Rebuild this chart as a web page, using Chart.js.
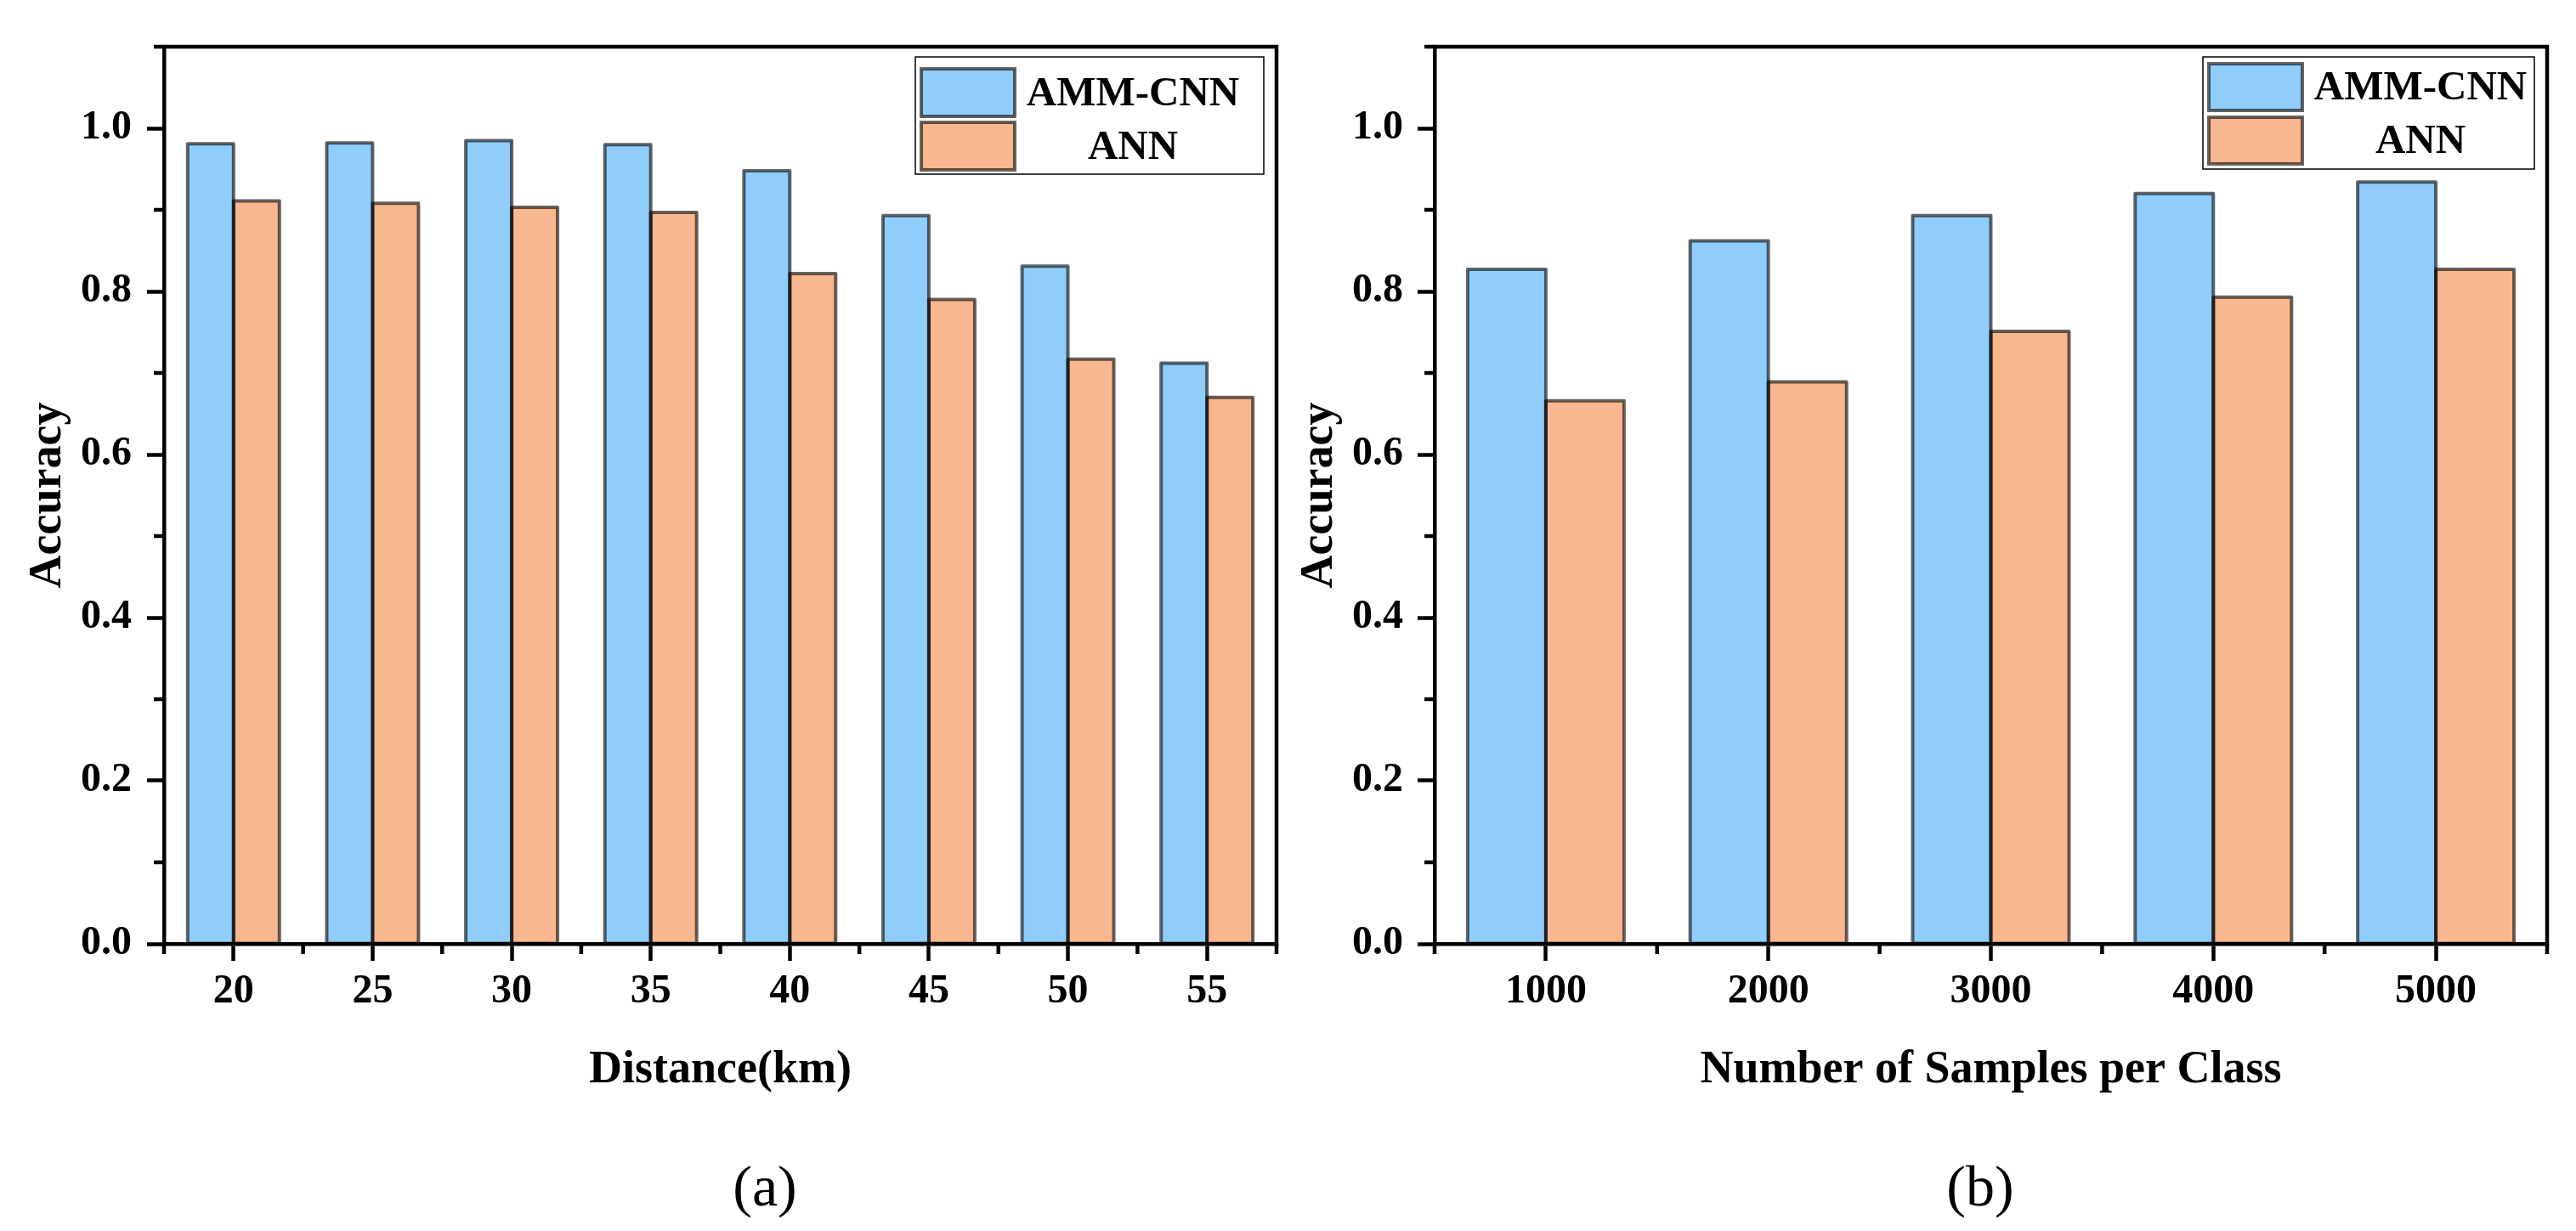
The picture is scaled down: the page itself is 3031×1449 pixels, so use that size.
<!DOCTYPE html>
<html>
<head>
<meta charset="utf-8">
<script src="https://cdn.jsdelivr.net/npm/chart.js@4.4.1/dist/chart.umd.min.js"></script>
<style>
html, body { margin: 0; padding: 0; background: #fff; }
#page { position: relative; width: 3031px; height: 1449px; overflow: hidden; background: #fff; }
.panel { position: absolute; top: 0; }
.caption { position: absolute; width: 200px; text-align: center; font-family: "Liberation Serif", "Times New Roman", serif; font-size: 68px; line-height: 80px; color: #000; }
</style>
</head>
<body>
<div id="page">
    <canvas id="chartA" class="panel" width="1516" height="1340" style="left:0px"></canvas>
    <canvas id="chartB" class="panel" width="1515" height="1340" style="left:1516px"></canvas>
    <div class="caption" style="left:800px; top:1356px">(a)</div>
    <div class="caption" style="left:2230px; top:1356px">(b)</div>
</div>
<script>
// panel (a): accuracy vs distance
var distanceLabels = ['20', '25', '30', '35', '40', '45', '50', '55'];
var distanceAmmCnn = [0.981, 0.982, 0.985, 0.980, 0.948, 0.893, 0.831, 0.712];
var distanceAnn = [0.911, 0.908, 0.903, 0.897, 0.822, 0.790, 0.717, 0.670];

// panel (b): accuracy vs samples per class
var sampleLabels = ['1000', '2000', '3000', '4000', '5000'];
var sampleAmmCnn = [0.827, 0.862, 0.893, 0.920, 0.934];
var sampleAnn = [0.666, 0.689, 0.751, 0.793, 0.827];

var yTickValues = [0, 0.2, 0.4, 0.6, 0.8, 1.0];
var yMinorValues = [0.1, 0.3, 0.5, 0.7, 0.9, 1.1];

var seriesNames = ['AMM-CNN', 'ANN'];
var seriesFill = ['#90cdfb', '#f9b790'];
var edgeColor = 'rgba(0,0,0,0.6)';
var serif = '"Liberation Serif", "Times New Roman", serif';

var tickFont = { family: serif, size: 48, weight: 'bold', lineHeight: 1.2 };
var titleFont = { family: serif, size: 54, weight: 'bold', lineHeight: 1.2 };

// outline each bar with a centred semi-transparent stroke (adjacent edges overlap darker)
var barEdges = {
    id: 'barEdges',
    afterDatasetsDraw: function (chart) {
        var ctx = chart.ctx;
        ctx.save();
        ctx.strokeStyle = edgeColor;
        ctx.lineWidth = 4;
        ctx.lineJoin = 'round';
        chart.data.datasets.forEach(function (ds, i) {
            chart.getDatasetMeta(i).data.forEach(function (bar) {
                var p = bar.getProps(['x', 'y', 'base', 'width'], true);
                ctx.strokeRect(p.x - p.width / 2, p.y, p.width, p.base - p.y);
            });
        });
        ctx.restore();
    }
};

// top/right frame and the short minor ticks
var frameTicks = {
    id: 'frameTicks',
    afterDraw: function (chart) {
        var ctx = chart.ctx;
        var area = chart.chartArea;
        var xs = chart.scales.x;
        var ys = chart.scales.y;
        var n = chart.data.labels.length;
        ctx.save();
        ctx.strokeStyle = '#000';
        ctx.lineWidth = 4.5;
        ctx.lineJoin = 'miter';
        ctx.beginPath();
        ctx.moveTo(area.left - 2.25, area.top);
        ctx.lineTo(area.right, area.top);
        ctx.lineTo(area.right, area.bottom + 2.25);
        ctx.stroke();

        ctx.beginPath();
        yMinorValues.forEach(function (v) {
            var py = ys.getPixelForValue(v);
            ctx.moveTo(area.left, py);
            ctx.lineTo(area.left - 12, py);
        });
        for (var i = 0; i <= n; i++) {
            var px;
            if (i === 0) px = xs.left;
            else if (i === n) px = xs.right;
            else px = (xs.getPixelForValue(i - 1) + xs.getPixelForValue(i)) / 2;
            ctx.moveTo(px, area.bottom);
            ctx.lineTo(px, area.bottom + 12);
        }
        ctx.stroke();
        ctx.restore();
    }
};

// framed legend in the upper right corner
var boxLegend = {
    id: 'boxLegend',
    afterDraw: function (chart, args, opts) {
        var ctx = chart.ctx;
        var area = chart.chartArea;
        var bx = area.right - opts.inset - opts.width;
        var by = area.top + 12;
        ctx.save();
        ctx.fillStyle = '#fff';
        ctx.fillRect(bx, by, opts.width, opts.height);
        ctx.strokeStyle = '#000';
        ctx.lineWidth = 1.5;
        ctx.strokeRect(bx, by, opts.width, opts.height);

        ctx.font = 'bold 49px ' + serif;
        ctx.textAlign = 'center';
        ctx.textBaseline = 'middle';
        chart.data.datasets.forEach(function (ds, i) {
            var sy = by + opts.rows[i];
            ctx.fillStyle = ds.backgroundColor;
            ctx.fillRect(bx + 7, sy, 110, opts.swatch);
            ctx.strokeStyle = edgeColor;
            ctx.lineWidth = 4;
            ctx.strokeRect(bx + 7, sy, 110, opts.swatch);
            ctx.fillStyle = '#000';
            ctx.fillText(ds.label, bx + opts.textAt, sy + opts.swatch / 2 + 2);
        });
        ctx.restore();
    }
};

function makeChart(canvasId, labels, amm, ann, cfg) {
    var ctx = document.getElementById(canvasId).getContext('2d');
    return new Chart(ctx, {
        type: 'bar',
        data: {
            labels: labels,
            datasets: [
                { label: seriesNames[0], data: amm, backgroundColor: seriesFill[0], borderWidth: 0,
                  categoryPercentage: cfg.catPct, barPercentage: 1.0 },
                { label: seriesNames[1], data: ann, backgroundColor: seriesFill[1], borderWidth: 0,
                  categoryPercentage: cfg.catPct, barPercentage: 1.0 }
            ]
        },
        plugins: [barEdges, frameTicks, boxLegend],
        options: {
            responsive: false,
            devicePixelRatio: 1,
            animation: false,
            layout: { padding: { top: 55, right: cfg.rightPad, left: 0, bottom: 0 } },
            plugins: {
                legend: { display: false },
                tooltip: { enabled: false },
                boxLegend: cfg.legend
            },
            scales: {
                x: {
                    offset: true,
                    grid: { offset: false, drawOnChartArea: false, drawTicks: true, tickLength: 20, tickWidth: 4.5, tickColor: '#000' },
                    border: { display: true, width: 4.5, color: '#000', z: 1 },
                    ticks: { color: '#000', font: tickFont, padding: 8, maxRotation: 0, autoSkip: false },
                    title: { display: true, text: cfg.xTitle, color: '#000', font: titleFont, padding: { top: 0, bottom: 48 } },
                    afterFit: function (scale) { scale.height = 229; }
                },
                y: {
                    min: 0,
                    max: 1.1,
                    afterBuildTicks: function (scale) {
                        scale.ticks = yTickValues.map(function (v) { return { value: v }; });
                    },
                    grid: { drawOnChartArea: false, drawTicks: true, tickLength: 20, tickWidth: 4.5, tickColor: '#000' },
                    border: { display: true, width: 4.5, color: '#000', z: 1 },
                    ticks: {
                        color: '#000', font: tickFont, padding: cfg.yPad,
                        callback: function (v) { return Number(v).toFixed(1); }
                    },
                    title: { display: true, text: 'Accuracy', color: '#000', font: titleFont, padding: { top: cfg.yTitlePad, bottom: 0 } },
                    afterFit: function (scale) { scale.width = cfg.yWidth; }
                }
            }
        }
    });
}

makeChart('chartA', distanceLabels, distanceAmmCnn, distanceAnn, {
    catPct: 0.66,
    rightPad: 14,
    yWidth: 193,
    yPad: 18,
    yTitlePad: 25,
    xTitle: 'Distance(km)',
    legend: { inset: 15, width: 410, height: 138, rows: [14, 77], swatch: 56, textAt: 256 }
});

makeChart('chartB', sampleLabels, sampleAmmCnn, sampleAnn, {
    catPct: 0.703,
    rightPad: 34,
    yWidth: 172,
    yPad: 17,
    yTitlePad: 5,
    xTitle: 'Number of Samples per Class',
    legend: { inset: 15, width: 390, height: 132, rows: [8, 71], swatch: 55, textAt: 256 }
});
</script>
</body>
</html>
